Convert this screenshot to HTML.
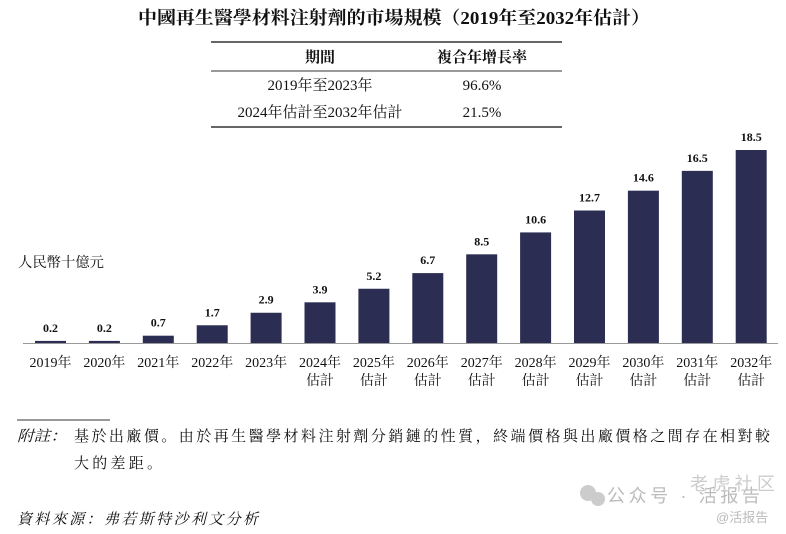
<!DOCTYPE html>
<html><head><meta charset="utf-8">
<style>
body{margin:0;background:#fff;}
svg{display:block;}
text{font-family:"Liberation Serif","Noto Serif CJK SC","Noto Sans CJK TC",serif;fill:#111;}
</style></head>
<body>
<svg id="chart" width="786" height="534" viewBox="0 0 786 534">
<text x="138" y="24" font-size="18" font-weight="bold" textLength="512" lengthAdjust="spacingAndGlyphs">中國再生醫學材料注射劑的市場規模（2019年至2032年估計）</text>
<g>
<line x1="211" y1="42" x2="562" y2="42" stroke="#333" stroke-width="1.5"/>
<line x1="211" y1="71" x2="562" y2="71" stroke="#333" stroke-width="1"/>
<line x1="211" y1="127" x2="562" y2="127" stroke="#333" stroke-width="1.5"/>
<text x="320" y="62" text-anchor="middle" font-size="15" font-weight="bold">期間</text>
<text x="482" y="62" text-anchor="middle" font-size="15" font-weight="bold">複合年增長率</text>
<text x="320" y="90" text-anchor="middle" font-size="15">2019年至2023年</text>
<text x="482" y="90" text-anchor="middle" font-size="15">96.6%</text>
<text x="320" y="117" text-anchor="middle" font-size="15">2024年估計至2032年估計</text>
<text x="482" y="117" text-anchor="middle" font-size="15">21.5%</text>
</g>
<text x="18" y="267" font-size="14" textLength="86" lengthAdjust="spacingAndGlyphs">人民幣十億元</text>
<g id="bars"></g>
<line x1="23" y1="343.5" x2="778" y2="343.5" stroke="#999" stroke-width="1"/>
<line x1="17" y1="420" x2="110" y2="420" stroke="#333" stroke-width="1"/>
<text x="17" y="441" font-size="15" font-style="italic" textLength="50" lengthAdjust="spacingAndGlyphs">附註：</text>
<text x="74" y="441" font-size="15" textLength="696" lengthAdjust="spacing">基於出廠價。由於再生醫學材料注射劑分銷鏈的性質，終端價格與出廠價格之間存在相對較</text>
<text x="74" y="468" font-size="15" textLength="88" lengthAdjust="spacing">大的差距。</text>
<text x="17" y="524" font-size="15" font-style="italic" textLength="241" lengthAdjust="spacing">資料來源：弗若斯特沙利文分析</text>
<g>
<circle cx="588" cy="493" r="8" fill="#ccc"/><circle cx="598" cy="499" r="7" fill="#ccc"/>
<text x="607" y="502" font-size="18" style="fill:#bbb;font-family:'Liberation Sans','Noto Sans CJK SC',sans-serif" textLength="153" lengthAdjust="spacing">公众号 · 活报告</text>
<text x="690" y="490" font-size="18" style="fill:#ccc;font-family:'Liberation Sans','Noto Sans CJK SC',sans-serif" textLength="85" lengthAdjust="spacing">老虎社区</text>
<text x="716" y="522" font-size="13" style="fill:#bbb;font-family:'Liberation Sans','Noto Sans CJK SC',sans-serif">@活报告</text>
</g>
</svg>
<script>
const categories=["2019年","2020年","2021年","2022年","2023年","2024年","2025年","2026年","2027年","2028年","2029年","2030年","2031年","2032年"];
const estimated=[false,false,false,false,false,true,true,true,true,true,true,true,true,true];
const values=[0.2,0.2,0.7,1.7,2.9,3.9,5.2,6.7,8.5,10.6,12.7,14.6,16.5,18.5];
const labels=["0.2","0.2","0.7","1.7","2.9","3.9","5.2","6.7","8.5","10.6","12.7","14.6","16.5","18.5"];
const NS="http://www.w3.org/2000/svg";
const g=document.getElementById('bars');
const base=343, scale=193/18.5, x0=35, step=53.9, bw=31;
function xPos(i){return x0+i*step;}
function yPos(v){return base-v*scale;}
categories.forEach((c,i)=>{
  const r=document.createElementNS(NS,'rect');
  r.setAttribute('x',xPos(i));r.setAttribute('y',yPos(values[i]));
  r.setAttribute('width',bw);r.setAttribute('height',base-yPos(values[i]));
  r.setAttribute('fill','#2b2d52');
  
  
  g.appendChild(r);
  const t=document.createElementNS(NS,'text');
  t.setAttribute('x',xPos(i)+bw/2);t.setAttribute('y',yPos(values[i])-9);
  t.setAttribute('text-anchor','middle');t.setAttribute('font-size','12');t.setAttribute('font-weight','bold');
  t.textContent=labels[i];
  
  
  g.appendChild(t);
  const l=document.createElementNS(NS,'text');
  l.setAttribute('x',xPos(i)+bw/2);l.setAttribute('y',367);
  l.setAttribute('text-anchor','middle');l.setAttribute('font-size','14');
  l.textContent=c;
  
  
  g.appendChild(l);
  if(estimated[i]){
    const e=document.createElementNS(NS,'text');
    e.setAttribute('x',xPos(i)+bw/2);e.setAttribute('y',385);
    e.setAttribute('text-anchor','middle');e.setAttribute('font-size','14');
    e.textContent='估計';
    
    
    g.appendChild(e);
  }
});
</script>
</body></html>
